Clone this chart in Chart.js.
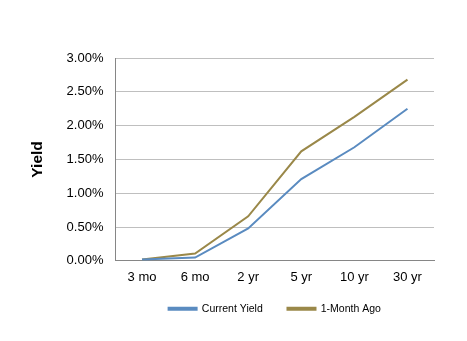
<!DOCTYPE html>
<html>
<head>
<meta charset="utf-8">
<script src="https://cdn.jsdelivr.net/npm/chart.js@4"></script>
<style>
  html, body { margin: 0; padding: 0; background: #fff; }
</style>
</head>
<body>
<canvas id="yieldChart" width="467" height="341"></canvas>
<script>
// treasury yield curve, today vs one month back
const maturities = ["3 mo", "6 mo", "2 yr", "5 yr", "10 yr", "30 yr"];
const currentYield = [0.02, 0.05, 0.48, 1.21, 1.68, 2.25];
const monthAgo = [0.02, 0.11, 0.66, 1.62, 2.13, 2.68];

const lineColors = ["#5A8BC0", "#9A8849"];

Chart.defaults.font.family = "'Liberation Sans', Arial, sans-serif";
Chart.defaults.color = "#000";

// wider gap between legend entries without adding vertical space
const legendGap = "\u2003\u2002";

new Chart("yieldChart", {
  type: "line",
  data: {
    labels: maturities,
    datasets: [{
      label: "Current Yield",
      data: currentYield,
      borderColor: lineColors[0],
      backgroundColor: lineColors[0],
      borderWidth: 2,
      pointRadius: 0,
      tension: 0
    }, {
      label: "1-Month Ago",
      data: monthAgo,
      borderColor: lineColors[1],
      backgroundColor: lineColors[1],
      borderWidth: 2,
      pointRadius: 0,
      tension: 0
    }]
  },
  options: {
    responsive: false,
    animation: false,
    layout: { padding: { left: 24, right: 33, top: 58, bottom: 17 } },
    plugins: {
      tooltip: { enabled: false },
      legend: {
        position: "bottom",
        fullSize: false,
        labels: {
          boxWidth: 28,
          boxHeight: 2,
          padding: 9,
          font: { size: 10.5 },
          generateLabels: chart => {
            const items = Chart.defaults.plugins.legend.labels.generateLabels(chart);
            items.forEach((it, i) => {
              if (i < items.length - 1) it.text += legendGap;
            });
            return items;
          }
        }
      }
    },
    scales: {
      x: {
        offset: true,
        grid: { display: false, drawTicks: false },
        border: { color: "#868686", width: 1 },
        ticks: { font: { size: 13 }, padding: 9 }
      },
      y: {
        min: 0,
        max: 3,
        grid: { color: "#BFBFBF", drawTicks: false },
        border: { color: "#868686", width: 1 },
        ticks: {
          stepSize: 0.5,
          padding: 12,
          font: { size: 13 },
          callback: v => v.toFixed(2) + "%"
        },
        title: {
          display: true,
          text: "Yield",
          font: { size: 15.5, weight: "bold" },
          padding: { bottom: 8 }
        }
      }
    }
  }
});
</script>
</body>
</html>
